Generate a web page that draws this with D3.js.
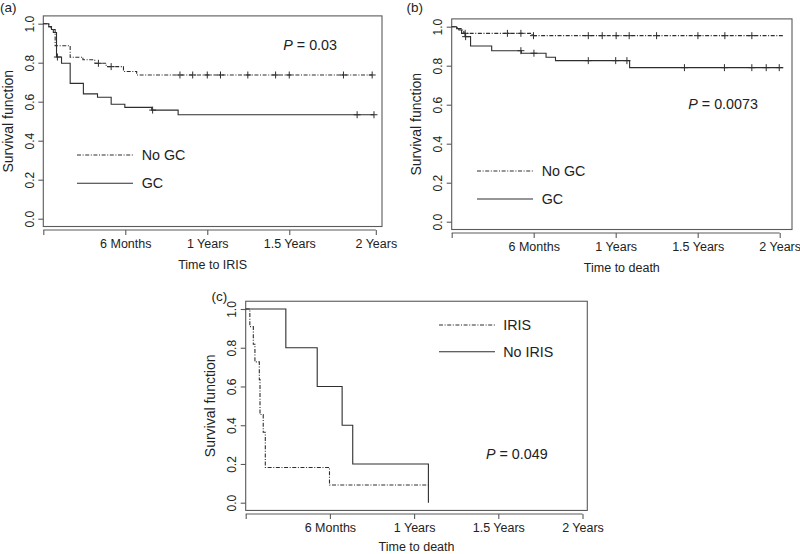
<!DOCTYPE html>
<html>
<head>
<meta charset="utf-8">
<script src="https://cdn.jsdelivr.net/npm/d3@7"></script>
<style>
  html, body { margin: 0; padding: 0; background: #fff; }
  svg { display: block; font-family: "Liberation Sans", Arial, Helvetica, sans-serif; }
</style>
</head>
<body>
<svg id="chart" width="800" height="554"></svg>
<script>
// ---------------- DATA (time in days, survival probability) ----------------
// Panel (a): Time to IRIS
const aNoGcTimes   = [0, 12, 17, 26, 59, 87, 113, 138, 176, 205];
const aNoGcSurv    = [1, 0.985, 0.97, 0.887, 0.828, 0.815, 0.797, 0.78, 0.755, 0.737];
const aNoGcCensor  = [121, 149, 300, 328, 360, 389, 449, 510, 540, 659, 722];
const aNoGcEnd     = 722;
const aGcTimes     = [0, 12, 18, 22, 29, 40, 59, 88, 119, 149, 179, 238, 296];
const aGcSurv      = [1, 0.985, 0.97, 0.955, 0.829, 0.797, 0.694, 0.64, 0.623, 0.587, 0.571, 0.557, 0.533];
const aGcCensor    = [31, 240, 689, 726];
const aGcEnd       = 726;

// Panel (b): Time to death
const bNoGcTimes   = [0, 12, 21, 27, 179];
const bNoGcSurv    = [1, 0.99, 0.983, 0.966, 0.954];
const bNoGcCensor  = [30, 124, 154, 182, 304, 335, 366, 395, 456, 548, 608, 668];
const bNoGcEnd     = 737;
const bGcTimes     = [0, 11, 16, 22, 30, 42, 89, 155, 210, 231, 396];
const bGcSurv      = [1, 0.99, 0.983, 0.966, 0.949, 0.901, 0.877, 0.864, 0.843, 0.826, 0.79];
const bGcCensor    = [31, 154, 183, 304, 365, 390, 518, 607, 668, 700, 729];
const bGcEnd       = 738;

// Panel (c): Time to death, IRIS vs No IRIS
const cIrisTimes   = [0, 9, 16.5, 20, 29.5, 31, 38, 42.5, 181.6];
const cIrisSurv    = [1, 0.909, 0.818, 0.727, 0.636, 0.455, 0.364, 0.182, 0.091];
const cIrisCensor  = [];
const cIrisEnd     = 396;
const cNoIrisTimes = [0, 87, 155, 209, 232, 396];
const cNoIrisSurv  = [1, 0.8, 0.6, 0.4, 0.2, 0.0];
const cNoIrisCensor= [];
const cNoIrisEnd   = 396;

// Ticks
const xTicksA      = [0, 180, 360, 540, 730];
const xTicksBC     = [0, 182.5, 365, 547.5, 730];
const xTickLabels  = ["", "6 Months", "1 Years", "1.5 Years", "2 Years"];
const yTicks       = [0, 0.2, 0.4, 0.6, 0.8, 1.0];
const yTickLabels  = ["0.0", "0.2", "0.4", "0.6", "0.8", "1.0"];

// Text
const yTitle = "Survival function";
const legendA = ["No GC", "GC"];
const legendC = ["IRIS", "No IRIS"];

// ---------------- STYLE / LAYOUT ----------------
const LINE = "#2e2e2e";
const BOX = "#5a5a5a";
const TEXT = "#222";
const DOTDASH = "4,1.6,1,1.6";

const svg = d3.select("#chart");

function drawPanel(cfg) {
  const g = svg.append("g");
  const x = d3.scaleLinear().domain([0, cfg.xMax]).range([cfg.left, cfg.right]);
  const y = d3.scaleLinear().domain([0, 1]).range([cfg.y0, cfg.y1]);
  const top = y(1.04), bottom = y(-0.04);

  // box
  g.append("rect")
    .attr("x", cfg.left).attr("y", top)
    .attr("width", cfg.right - cfg.left).attr("height", bottom - top)
    .attr("fill", "none").attr("stroke", BOX).attr("stroke-width", 1.1);

  // x axis
  const axY = bottom + 3.5;
  const xa = g.append("g").attr("transform", `translate(0,${axY})`)
    .call(d3.axisBottom(x).tickValues(cfg.xTicks)
      .tickFormat((d, i) => xTickLabels[i]).tickSize(5).tickPadding(4));
  xa.select(".domain").remove();
  xa.selectAll(".tick line").attr("stroke", BOX).attr("stroke-width", 1.1);
  xa.selectAll(".tick text").attr("fill", TEXT).style("font-size", "12.5px")
    .style("font-family", "Liberation Sans, Arial, sans-serif");
  g.append("line")
    .attr("x1", x(cfg.xTicks[0])).attr("x2", x(cfg.xTicks[cfg.xTicks.length - 1]))
    .attr("y1", axY).attr("y2", axY).attr("stroke", BOX).attr("stroke-width", 1.1);

  // y axis
  const ya = g.append("g").attr("transform", `translate(${cfg.left},0)`)
    .call(d3.axisLeft(y).tickValues(yTicks).tickFormat((d, i) => yTickLabels[i]).tickSize(5));
  ya.select(".domain").remove();
  ya.selectAll(".tick line").attr("stroke", BOX).attr("stroke-width", 1.1);
  ya.selectAll(".tick text")
    .attr("x", null).attr("dy", null)
    .attr("text-anchor", "middle")
    .attr("dominant-baseline", "central")
    .attr("transform", "translate(-13.5,0) rotate(-90)")
    .attr("fill", TEXT).style("font-size", "12px")
    .style("font-family", "Liberation Sans, Arial, sans-serif");

  // axis titles
  g.append("text")
    .attr("x", (cfg.left + cfg.right) / 2).attr("y", axY + cfg.titleGap)
    .attr("text-anchor", "middle").attr("dominant-baseline", "central")
    .attr("fill", TEXT).style("font-size", "12.5px").text(cfg.xTitle);
  g.append("text")
    .attr("transform", `translate(${cfg.left - 35.5},${(top + bottom) / 2}) rotate(-90)`)
    .attr("text-anchor", "middle").attr("dominant-baseline", "central")
    .attr("fill", TEXT).style("font-size", "14px").text(yTitle);

  // panel label
  g.append("text").attr("x", cfg.labX).attr("y", cfg.labY)
    .attr("fill", TEXT).style("font-size", "13.5px").text(cfg.label);

  // curves
  const line = d3.line().x(d => x(d[0])).y(d => y(d[1])).curve(d3.curveStepAfter);
  cfg.series.forEach(s => {
    const pts = s.times.map((t, i) => [t, s.surv[i]]);
    pts.push([s.end, s.surv[s.surv.length - 1]]);
    g.append("path").datum(pts).attr("d", line)
      .attr("fill", "none").attr("stroke", LINE).attr("stroke-width", 1.1)
      .attr("stroke-dasharray", s.dash ? DOTDASH : null);
    // censor marks
    const survAt = t => {
      let v = s.surv[0];
      s.times.forEach((tt, i) => { if (tt <= t) v = s.surv[i]; });
      return v;
    };
    s.censor.forEach(t => {
      const cx = x(t), cy = y(survAt(t));
      g.append("line").attr("x1", cx).attr("x2", cx).attr("y1", cy - 3.5).attr("y2", cy + 3.5)
        .attr("stroke", LINE).attr("stroke-width", 1);
      g.append("line").attr("x1", cx - 3.5).attr("x2", cx + 3.5).attr("y1", cy).attr("y2", cy)
        .attr("stroke", LINE).attr("stroke-width", 1);
    });
  });

  // legend
  cfg.legend.forEach((lg, i) => {
    const ly = cfg.legY[i];
    g.append("line").attr("x1", cfg.legX1).attr("x2", cfg.legX2).attr("y1", ly).attr("y2", ly)
      .attr("stroke", LINE).attr("stroke-width", 1.1)
      .attr("stroke-dasharray", lg.dash ? DOTDASH : null);
    g.append("text").attr("x", cfg.legTX).attr("y", ly)
      .attr("dominant-baseline", "central").attr("fill", TEXT)
      .style("font-size", "14.3px").text(lg.name);
  });

  // p-value
  const pt = g.append("text").attr("x", cfg.pX).attr("y", cfg.pY)
    .attr("dominant-baseline", "central").attr("fill", TEXT).style("font-size", "14.3px");
  pt.append("tspan").style("font-style", "italic").text("P");
  pt.append("tspan").text(" = " + cfg.pText);
}

drawPanel({
  label: "(a)", labX: 0, labY: 12,
  left: 43.3, right: 382, xMax: 743.6, y0: 218.7, y1: 23.7,
  xTicks: xTicksA, xTitle: "Time to IRIS", titleGap: 35,
  series: [
    { times: aNoGcTimes, surv: aNoGcSurv, censor: aNoGcCensor, end: aNoGcEnd, dash: true },
    { times: aGcTimes, surv: aGcSurv, censor: aGcCensor, end: aGcEnd, dash: false }
  ],
  legend: [{ name: legendA[0], dash: true }, { name: legendA[1], dash: false }],
  legX1: 77, legX2: 133, legTX: 141.7, legY: [155, 183.3],
  pX: 283.3, pY: 45, pText: "0.03"
});

drawPanel({
  label: "(b)", labX: 406.5, labY: 12,
  left: 451.7, right: 792, xMax: 757.4, y0: 221.7, y1: 26.7,
  xTicks: xTicksBC, xTitle: "Time to death", titleGap: 35,
  series: [
    { times: bNoGcTimes, surv: bNoGcSurv, censor: bNoGcCensor, end: bNoGcEnd, dash: true },
    { times: bGcTimes, surv: bGcSurv, censor: bGcCensor, end: bGcEnd, dash: false }
  ],
  legend: [{ name: legendA[0], dash: true }, { name: legendA[1], dash: false }],
  legX1: 477, legX2: 533, legTX: 541.7, legY: [171, 199],
  pX: 688.3, pY: 104.3, pText: "0.0073"
});

drawPanel({
  label: "(c)", labX: 211.5, labY: 301,
  left: 245.7, right: 587.3, xMax: 740.4, y0: 502.7, y1: 309,
  xTicks: xTicksBC, xTitle: "Time to death", titleGap: 33,
  series: [
    { times: cIrisTimes, surv: cIrisSurv, censor: cIrisCensor, end: cIrisEnd, dash: true },
    { times: cNoIrisTimes, surv: cNoIrisSurv, censor: cNoIrisCensor, end: cNoIrisEnd, dash: false }
  ],
  legend: [{ name: legendC[0], dash: true }, { name: legendC[1], dash: false }],
  legX1: 439, legX2: 495, legTX: 503.3, legY: [325, 351.7],
  pX: 486, pY: 454.3, pText: "0.049"
});
</script>
</body>
</html>
